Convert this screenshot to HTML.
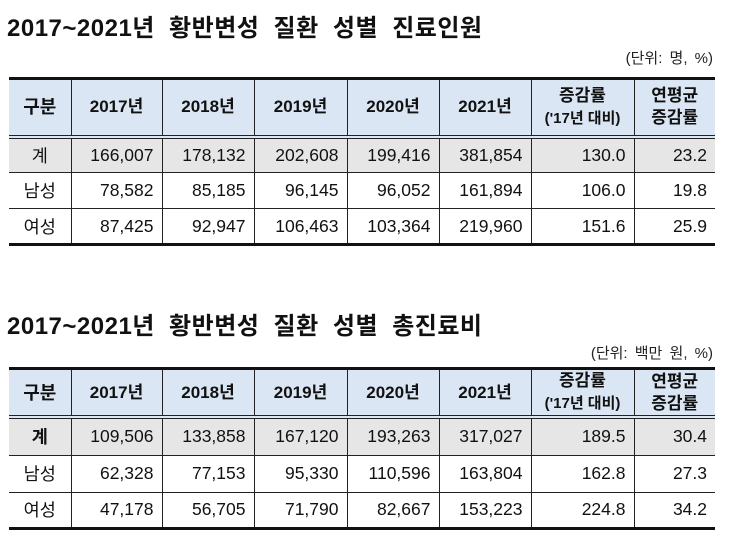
<!DOCTYPE html>
<html><head><meta charset="utf-8"><style>
body{margin:0;width:739px;height:545px;background:#fff;position:relative;overflow:hidden;font-family:"Liberation Sans","Noto Sans CJK KR",sans-serif;color:#111}
.t{position:absolute;left:7px;font-size:24px;font-weight:bold;letter-spacing:0.5px;word-spacing:7px;white-space:nowrap}
.u{position:absolute;right:26px;font-size:15px;color:#222;word-spacing:3px}
table{position:absolute;left:9px;border-collapse:collapse;table-layout:fixed;width:706px}
td{border-left:1px solid #222;border-right:1px solid #222;border-bottom:1px solid #222;font-size:17.5px;text-align:right;padding:0 8px 0 0;white-space:nowrap}
td:first-child{border-left:none;text-align:center;padding:0}
td:last-child{border-right:none}
tr.h td{background:#dae6f4;font-weight:bold;font-size:17px;text-align:center;padding:0;border-bottom:4px double #222;line-height:22px}
tr.g td{background:#e6e6e6}
table{border-top:3px solid #111;border-bottom:3px solid #111}
</style></head><body>
<div class="t" style="top:8px">2017~2021년 황반변성 질환 성별 진료인원</div>
<div class="u" style="top:47px">(단위: 명, %)</div>
<table style="top:77px">
<colgroup><col style="width:62px"><col style="width:91px"><col style="width:92px"><col style="width:93px"><col style="width:92px"><col style="width:92px"><col style="width:103px"><col style="width:81px"></colgroup>
<tr class="h" style="height:58px"><td style="font-size:18px">구분</td><td>2017년</td><td>2018년</td><td>2019년</td><td>2020년</td><td>2021년</td><td>증감률<br><span style="font-size:15px">('17년 대비)</span></td><td>연평균<br>증감률</td></tr>
<tr class="g" style="height:36px"><td>계</td><td>166,007</td><td>178,132</td><td>202,608</td><td>199,416</td><td>381,854</td><td>130.0</td><td>23.2</td></tr>
<tr style="height:36px"><td>남성</td><td>78,582</td><td>85,185</td><td>96,145</td><td>96,052</td><td>161,894</td><td>106.0</td><td>19.8</td></tr>
<tr style="height:36px"><td>여성</td><td>87,425</td><td>92,947</td><td>106,463</td><td>103,364</td><td>219,960</td><td>151.6</td><td>25.9</td></tr>
</table>
<div class="t" style="top:306px">2017~2021년 황반변성 질환 성별 총진료비</div>
<div class="u" style="top:342px">(단위: 백만 원, %)</div>
<table style="top:367px">
<colgroup><col style="width:62px"><col style="width:91px"><col style="width:92px"><col style="width:93px"><col style="width:92px"><col style="width:92px"><col style="width:103px"><col style="width:81px"></colgroup>
<tr class="h" style="height:46px"><td style="font-size:18px">구분</td><td>2017년</td><td>2018년</td><td>2019년</td><td>2020년</td><td>2021년</td><td>증감률<br><span style="font-size:15px">('17년 대비)</span></td><td>연평균<br>증감률</td></tr>
<tr class="g" style="height:38px"><td style="font-weight:bold">계</td><td>109,506</td><td>133,858</td><td>167,120</td><td>193,263</td><td>317,027</td><td>189.5</td><td>30.4</td></tr>
<tr style="height:37px"><td>남성</td><td>62,328</td><td>77,153</td><td>95,330</td><td>110,596</td><td>163,804</td><td>162.8</td><td>27.3</td></tr>
<tr style="height:36px"><td>여성</td><td>47,178</td><td>56,705</td><td>71,790</td><td>82,667</td><td>153,223</td><td>224.8</td><td>34.2</td></tr>
</table>
</body></html>
